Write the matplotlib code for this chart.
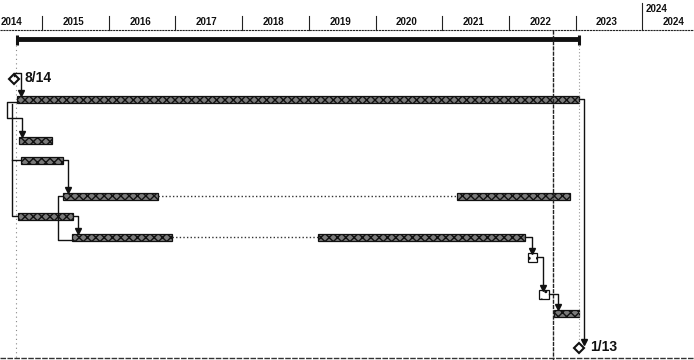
import matplotlib
matplotlib.use("Agg")
import matplotlib.pyplot as plt
from matplotlib.patches import Rectangle

# ---- data (decimal years) ----
years = [2014, 2015, 2016, 2017, 2018, 2019, 2020, 2021, 2022, 2023, 2024]
project_start = 2014.62   # 8/14
project_end = 2023.05     # 1/13
status_date = 2022.66
start_label = "8/14"
end_label = "1/13"

# each task: list of (start, end) segments
task_segments = [
    [(2014.62, 2023.05)],
    [(2014.65, 2015.15)],
    [(2014.69, 2015.31)],
    [(2015.31, 2016.74), (2021.22, 2022.92)],
    [(2014.64, 2015.46)],
    [(2015.45, 2016.95), (2019.14, 2022.24)],
    [(2022.29, 2022.42)],
    [(2022.45, 2022.60)],
    [(2022.68, 2023.05)],
]
task_style = ["hatch", "hatch", "hatch", "hatch", "hatch", "hatch", "box", "box", "hatch"]

# ---- layout ----
W, H = 694, 360
px_per_year = 66.7
x0 = 2015 - 42 / px_per_year
x1 = x0 + W / px_per_year
row_y = [99, 140, 160, 196, 216, 237, 257, 294, 313]
bar_h = 7

fig = plt.figure(figsize=(W / 100, H / 100), dpi=100)
ax = fig.add_axes([0, 0, 1, 1])
ax.set_xlim(x0, x1)
ax.set_ylim(H, 0)
ax.axis("off")

def px(p):
    return p / px_per_year

font = dict(family="Liberation Sans", weight="bold", color="#111111")

# header
ax.plot([x0, x1], [30, 30], color="#222222", lw=0.8, ls=(0, (2, 0.6)))
for y in years:
    top = 3 if y == 2024 else 16
    ax.plot([y, y], [top, 30], color="#222222", lw=0.8)
    if y == 2014:
        ax.text(x0 + px(0.5), 27, str(y), ha="left", va="bottom", fontsize=7, **font)
    else:
        ax.text(y + 0.5 - px(2), 27, str(y), ha="center", va="bottom", fontsize=7, **font)
ax.text(2024 + px(3), 14, "2024", ha="left", va="bottom", fontsize=7, **font)

# summary bar
ax.plot([project_start, project_end], [38.5, 38.5], color="#111111", lw=3.5, solid_capstyle="butt")
for xx in (project_start, project_end):
    ax.plot([xx, xx], [35, 45], color="#111111", lw=2.2, solid_capstyle="butt")

# vertical lines
ax.plot([project_start - px(1), project_start - px(1)], [45, H], color="#888888", lw=0.8, ls=(0, (1, 3)))
ax.plot([status_date, status_date], [30, H], color="#222222", lw=1.0, ls=(0, (3, 0.8)))
ax.plot([project_end, project_end], [45, 340], color="#999999", lw=0.8, ls=(0, (1, 2)))
ax.plot([x0, x1], [358, 358], color="#333333", lw=1.0, ls=(0, (4, 1)))

# bars
for segs, style, yc in zip(task_segments, task_style, row_y):
    for i, (s, e) in enumerate(segs):
        if style == "hatch":
            r = Rectangle((s, yc - bar_h / 2), e - s, bar_h, facecolor="#7a7a7a",
                          edgecolor="#111111", lw=0.9, hatch="xxxx")
        else:
            r = Rectangle((s, yc - bar_h / 2 - 1), e - s, bar_h + 2, facecolor="white",
                          edgecolor="#111111", lw=0.9, hatch="..")
        ax.add_patch(r)
        if i + 1 < len(segs):
            ax.plot([e, segs[i + 1][0]], [yc, yc], color="#333333", lw=1.0, ls=(0, (1, 1.6)))

def link(xs, ys):
    ax.plot(xs, ys, color="#111111", lw=1.0, solid_joinstyle="round")

def arrow_down(x, y):
    ax.plot([x], [y - 2.5], marker="v", ms=5, color="#111111")

def arrow_right(x, y):
    ax.plot([x - 2.5], [y], marker=">", ms=4.5, color="#111111")

# milestones
for xm, ym, lab in ((project_start - px(3), 79, start_label), (project_end, 348, end_label)):
    ax.plot([xm], [ym], marker="D", ms=5, mfc="white", mec="#111111", mew=1.5)
    ax.text(xm + px(11), ym - 1, lab, ha="left", va="center", fontsize=10, **font)

# dependency links
s0 = task_segments[0][0][0]
link([s0 - px(3), s0 - px(3), s0 + px(4), s0 + px(4)], [76, 73, 73, 92])
arrow_down(s0 + px(4), 95)
link([s0, s0 - px(10), s0 - px(10), s0 - px(5)], [102, 102, 118, 118])
link([s0 - px(5), s0 + px(5), s0 + px(5)], [118, 118, 134])
arrow_down(s0 + px(5), 136.5)
link([s0 - px(5), s0 - px(5), task_segments[4][0][0] - px(1)], [104, 216, 216])
link([s0 - px(5), task_segments[2][0][0] - px(1)], [160, 160])
arrow_right(task_segments[2][0][0], 160)
arrow_right(task_segments[4][0][0], 216)

def fs_link(r_from, r_to):
    xe = task_segments[r_from][-1][1]
    ye = row_y[r_from]
    xs = task_segments[r_to][0][0]
    xd = max(xe + px(5), xs + px(4))
    yt = row_y[r_to] - bar_h / 2
    link([xe, xd, xd], [ye, ye, yt - 4])
    arrow_down(xd, yt)

fs_link(2, 3)
fs_link(4, 5)
fs_link(5, 6)
fs_link(6, 7)
fs_link(7, 8)
# start-to-start link row 4 -> row 6
s3 = task_segments[3][0][0]
s5 = task_segments[5][0][0]
link([s3, s3 - px(5), s3 - px(5), s5 - px(1)], [196, 196, 240, 240])
arrow_right(s5, 240)
# row 1 end -> end milestone
link([project_end, project_end + px(5), project_end + px(5)], [99, 99, 342])
ax.plot([project_end + px(5)], [342], marker="v", ms=5, color="#111111")

fig.savefig("out.png", dpi=100)
